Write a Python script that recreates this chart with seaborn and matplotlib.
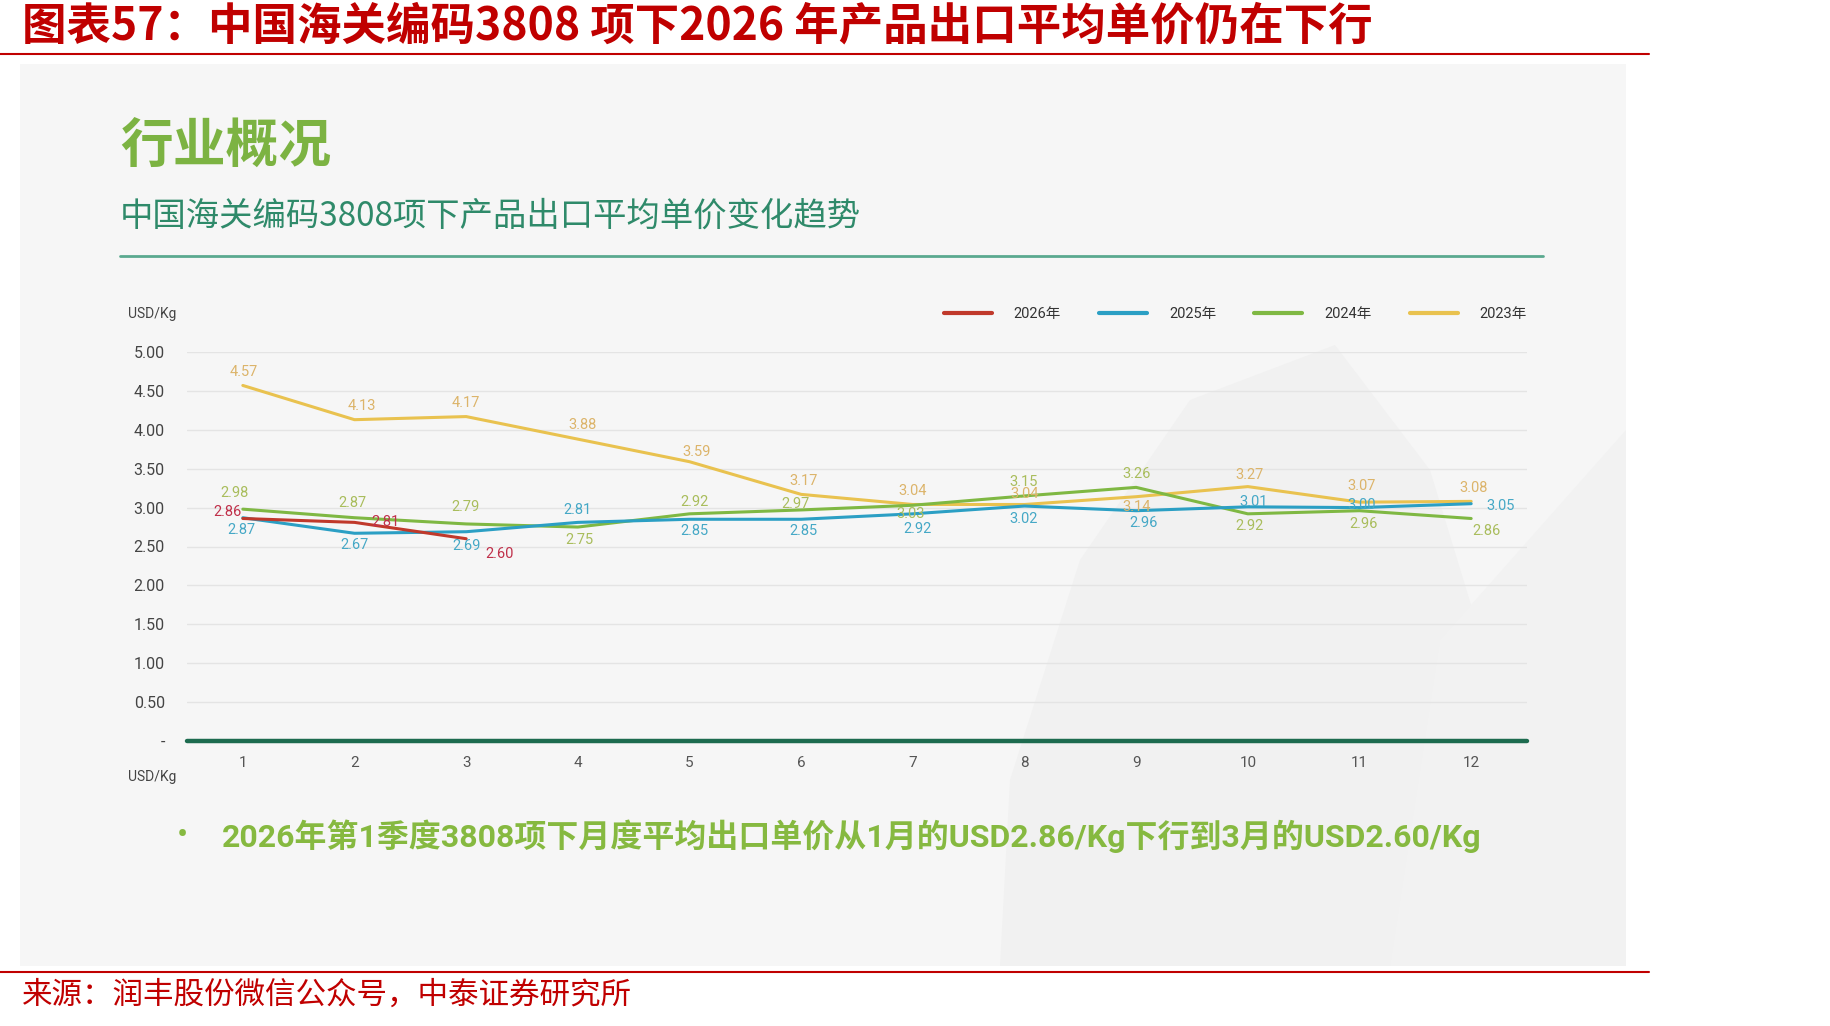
import matplotlib
matplotlib.use('Agg')
import matplotlib.pyplot as plt
from matplotlib.patches import Rectangle, Polygon
from matplotlib.lines import Line2D
import pandas as pd
import seaborn as sns


months = list(range(1, 13))
p2026 = [2.86, 2.81, 2.60]
p2025 = [2.87, 2.67, 2.69, 2.81, 2.85, 2.85, 2.92, 3.02, 2.96, 3.01, 3.00, 3.05]
p2024 = [2.98, 2.87, 2.79, 2.75, 2.92, 2.97, 3.03, 3.15, 3.26, 2.92, 2.96, 2.86]
p2023 = [4.57, 4.13, 4.17, 3.88, 3.59, 3.17, 3.04, 3.04, 3.14, 3.27, 3.07, 3.08]
years = ['2026年', '2025年', '2024年', '2023年']
y_ticks = [0, 0.5, 1.0, 1.5, 2.0, 2.5, 3.0, 3.5, 4.0, 4.5, 5.0]
y_ticklabels = ['-', '0.50', '1.00', '1.50', '2.00', '2.50', '3.00', '3.50', '4.00', '4.50', '5.00']

title = '图表57：中国海关编码3808 项下2026 年产品出口平均单价仍在下行'
source = '来源：润丰股份微信公众号，中泰证券研究所'
heading = '行业概况'
subtitle = '中国海关编码3808项下产品出口平均单价变化趋势'
note = '2026年第1季度3808项下月度平均出口单价从1月的USD2.86/Kg下行到3月的USD2.60/Kg'

line_colors = {'2026年': '#c0392b', '2025年': '#2b9fc4', '2024年': '#7fb843', '2023年': '#e9c24f'}
label_colors = {'2026年': '#c0304a', '2025年': '#45a8c6', '2024年': '#a9bd5c', '2023年': '#dcb46a'}

# label offsets in pixels (dx, dy)
offsets = {
    '2023年': [(1, 13), (7, 14), (0, 14), (5, 14), (7, 10), (2, 13), (0, 13), (0, 10),
              (0, -10), (2, 12), (2, 16), (2, 13)],
    '2024年': [(-8, 16), (-2, 15), (-1, 17), (2, -13), (5, 12), (-6, 6), (-2, -9), (-1, 14),
              (0, 13), (2, -12), (4, -13), (15, -13)],
    '2025年': [(-1, -12), (0, -12), (0, -14), (0, 12), (5, -12), (2, -12), (5, -15), (-1, -13),
              (7, -12), (6, 5), (2, 3), (29, -2)],
    '2026年': [(-15, 6), (31, 0), (33, -15)],
}

series = {'2026年': p2026, '2025年': p2025, '2024年': p2024, '2023年': p2023}
rows = []
for y, vals in series.items():
    for m, v in zip(months, vals):
        rows.append({'month': m, 'price': v, 'year': y})
df = pd.DataFrame(rows)

sns.set_theme(style='white')
plt.rcParams['font.family'] = ['Roboto', 'Noto Sans CJK SC', 'DejaVu Sans']
cjk = ['Noto Sans CJK SC', 'DejaVu Sans']

fig = plt.figure(figsize=(18.3, 10.26), dpi=100)
fig.patch.set_facecolor('white')

W, H = 1830, 1026


def fx(px):
    return px / W


def fy(py):
    return 1 - py / H


# grey panel + faint watermark
fig.patches.append(Rectangle((fx(20), fy(966)), fx(1626) - fx(20), fy(64) - fy(966),
                             transform=fig.transFigure, facecolor='#f6f6f6', edgecolor='none', zorder=0))
fig.patches.append(Polygon([(fx(1000), fy(966)), (fx(1010), fy(780)), (fx(1080), fy(560)),
                            (fx(1190), fy(400)), (fx(1335), fy(345)), (fx(1430), fy(470)),
                            (fx(1500), fy(700)), (fx(1540), fy(966))],
                           closed=True, transform=fig.transFigure, facecolor='#f1f1f1',
                           edgecolor='none', zorder=0.5))
fig.patches.append(Polygon([(fx(1390), fy(966)), (fx(1440), fy(640)), (fx(1626), fy(430)),
                            (fx(1626), fy(966))],
                           closed=True, transform=fig.transFigure, facecolor='#f2f2f2',
                           edgecolor='none', zorder=0.6))

# red rules
fig.add_artist(Line2D([0, fx(1649)], [fy(54), fy(54)], transform=fig.transFigure, color='#c00000', lw=1.5))
fig.add_artist(Line2D([0, fx(1649)], [fy(972), fy(972)], transform=fig.transFigure, color='#c00000', lw=1.5))
# teal rule under subtitle
fig.add_artist(Line2D([fx(120), fx(1543)], [fy(256), fy(256)], transform=fig.transFigure, color='#5aa98f', lw=2))

fig.text(fx(22), fy(27), title, family=cjk, fontsize=32, fontweight='bold', color='#c00000', va='center')
fig.text(fx(22), fy(995), source, family=cjk, fontsize=22, color='#c00000', va='center')
fig.text(fx(120), fy(146), heading, family=cjk, fontsize=38, fontweight='bold', color='#7cb342', va='center')
fig.text(fx(120), fy(216), subtitle, family=cjk, fontsize=24, color='#2f8a6a', va='center')
fig.text(fx(182), fy(836), '•', fontsize=24, color='#86b940', va='center', ha='center')
fig.text(fx(222), fy(836), note, family=['Roboto', 'Noto Sans CJK SC'], fontsize=23, fontweight='bold',
         color='#86b940', va='center')

ax = fig.add_axes([fx(187), fy(741), fx(1527) - fx(187), fy(352) - fy(741)])
ax.set_zorder(2)
ax.set_facecolor('none')

sns.lineplot(data=df, x='month', y='price', hue='year', hue_order=years, palette=line_colors,
             linewidth=2.2, ax=ax, legend=False)
# 2026 on top, 2023 at the back
for i, ln in enumerate(ax.lines):
    ln.set_zorder(4 - i * 0.1)

for y in years:
    for m, v, (dx, dy) in zip(months, series[y], offsets[y]):
        ax.annotate(f'{v:.2f}', (m, v), xytext=(dx, dy), textcoords='offset pixels',
                    ha='center', va='center', fontsize=10.5, color=label_colors[y], zorder=5)

ax.set_xlim(0.5, 12.5)
ax.set_ylim(0, 5)
ax.set_yticks(y_ticks)
ax.set_yticklabels(y_ticklabels)
ax.set_xticks(months)
ax.set_xticklabels([str(m) for m in months])
ax.tick_params(axis='y', length=0, pad=16, labelsize=11.5, labelcolor='#444444')
ax.tick_params(axis='x', length=0, pad=11, labelsize=11, labelcolor='#555555')
ax.set_xlabel('')
ax.set_ylabel('')
ax.grid(axis='y', color='#e4e4e4', linewidth=1)
ax.grid(axis='x', visible=False)
for s in ax.spines.values():
    s.set_visible(False)
ax.axhline(0, color='#1d6b4f', linewidth=3.2, zorder=4.5, clip_on=False)

fig.text(fx(152), fy(314), 'USD/Kg', fontsize=10, color='#444444', ha='center', va='center')
fig.text(fx(152), fy(777), 'USD/Kg', fontsize=10, color='#444444', ha='center', va='center')

handles = [Line2D([], [], color=line_colors[y], lw=3) for y in years]
fig.legend(handles, years, loc='center right', bbox_to_anchor=(fx(1527), fy(314)),
           bbox_transform=fig.transFigure, ncol=4, frameon=False, fontsize=10.5,
           handlelength=3.3, handletextpad=1.5, columnspacing=2.6, borderpad=0, borderaxespad=0,
           labelcolor='#333333')

plt.savefig('out.png', dpi=100, facecolor='white')
